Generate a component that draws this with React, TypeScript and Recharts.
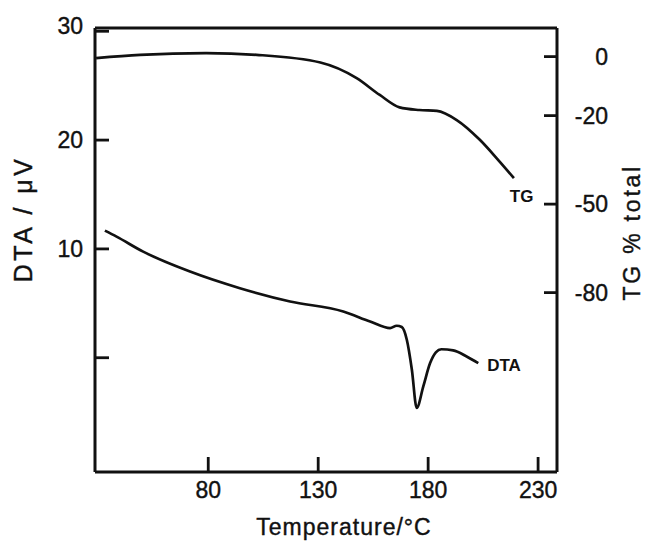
import { Label, Line, LineChart, ReferenceDot, XAxis, YAxis } from "recharts";

// TG trace (temperature °C, TG % total)
const tgTemp = [29, 49, 79, 102, 131, 147.5, 158, 167, 176, 184, 193, 203.5, 212.5, 219];
const tgPct = [-0.5, 0.6, 1.2, 0.6, -2.0, -7.3, -13, -17.2, -18.1, -18.4, -21.5, -28.2, -35.6, -41.2];

// DTA trace (temperature °C, µV)
const dtaTemp = [
  33, 38.3, 50.4, 71.7, 94.4, 117.2, 141.4, 153.6, 162.7, 165.7, 168, 170.3, 172.6, 174.8, 177.8,
  180.9, 183.5, 186, 191.4, 197.5, 202.8,
];
const dtaUv = [
  11.68, 11.13, 9.75, 7.92, 6.39, 5.17, 4.25, 3.33, 2.72, 2.94, 2.82, 1.65, -1.1, -4.61, -2.63,
  -0.49, 0.5, 0.78, 0.68, 0.12, -0.49,
];

const tempTicks = [80, 130, 180, 230];
const dtaTicks = [0, 10, 20, 30];
const tgTicks = [0, -20, -50, -80];

const tgData = tgTemp.map((t, i) => ({ t, tg: tgPct[i] }));
const dtaData = dtaTemp.map((t, i) => ({ t, dta: dtaUv[i] }));

const INK = "#111";
const FONT = "'Liberation Sans', Arial, sans-serif";
const textStyle = { fill: INK, fontFamily: FONT, stroke: INK, strokeWidth: 0.4 };

function LeftTick({ x, y, payload }: any) {
  // the top label sits a little above the frame corner in the original
  const dy = payload.value === 30 ? -5 : 0;
  return (
    <g>
      <line x1={x} x2={x + 14} y1={y} y2={y} stroke={INK} strokeWidth={2.8} />
      {payload.value !== 0 && (
        <text x={x - 12} y={y + dy} textAnchor="end" dominantBaseline="central" fontSize={23} {...textStyle}>
          {payload.value}
        </text>
      )}
    </g>
  );
}

function RightTick({ x, y, payload }: any) {
  return (
    <g>
      <line x1={x - 13} x2={x} y1={y} y2={y} stroke={INK} strokeWidth={2.8} />
      <text x={x + 51} y={y} textAnchor="end" dominantBaseline="central" fontSize={23} {...textStyle}>
        {payload.value}
      </text>
    </g>
  );
}

function BottomTick({ x, y, payload }: any) {
  return (
    <g>
      <line x1={x} x2={x} y1={y - 15} y2={y} stroke={INK} strokeWidth={2.8} />
      <text x={x} y={y + 18} textAnchor="middle" dominantBaseline="central" fontSize={23} {...textStyle}>
        {payload.value}
      </text>
    </g>
  );
}

export default function App() {
  const axisLine = { stroke: INK, strokeWidth: 3 };
  return (
    <div style={{ position: "absolute", left: 0, top: 0, width: 646, height: 542, background: "#fff" }}>
      <LineChart width={646} height={542} margin={{ top: 26, right: 19, bottom: 10, left: 35 }}>
        <XAxis
          type="number"
          dataKey="t"
          domain={[28.5, 238.6]}
          ticks={tempTicks}
          height={60}
          tickSize={0}
          tickMargin={0}
          tickLine={false}
          axisLine={axisLine}
          tick={<BottomTick />}
          allowDataOverflow
        >
          <Label
            content={({ viewBox }: any) => (
              <text
                x={viewBox.x + viewBox.width / 2 + 18}
                y={viewBox.y + 55}
                textAnchor="middle"
                dominantBaseline="central"
                fontSize={23}
                letterSpacing={1}
                {...textStyle}
              >
                Temperature/°C
              </text>
            )}
          />
        </XAxis>
        <XAxis
          xAxisId="top"
          orientation="top"
          type="number"
          dataKey="t"
          domain={[28.5, 238.6]}
          height={2}
          tick={false}
          tickLine={false}
          axisLine={axisLine}
          allowDataOverflow
        />
        <YAxis
          yAxisId="dta"
          type="number"
          domain={[-10.5, 30.3]}
          ticks={dtaTicks}
          width={60}
          tickSize={0}
          tickMargin={0}
          tickLine={false}
          axisLine={axisLine}
          tick={<LeftTick />}
          allowDataOverflow
        >
          <Label
            content={({ viewBox }: any) => {
              const cx = viewBox.x + viewBox.width - 72;
              const cy = viewBox.y + viewBox.height * 0.43;
              return (
                <text
                  x={cx}
                  y={cy}
                  transform={`rotate(-90 ${cx} ${cy})`}
                  textAnchor="middle"
                  dominantBaseline="central"
                  fontSize={25}
                  letterSpacing={3.5}
                  {...textStyle}
                >
                  DTA / μV
                </text>
              );
            }}
          />
        </YAxis>
        <YAxis
          yAxisId="tg"
          orientation="right"
          type="number"
          domain={[-140.8, 9.7]}
          ticks={tgTicks}
          width={70}
          tickSize={0}
          tickMargin={0}
          tickLine={false}
          axisLine={axisLine}
          tick={<RightTick />}
          allowDataOverflow
        >
          <Label
            content={({ viewBox }: any) => {
              const cx = viewBox.x + 75;
              const cy = viewBox.y + viewBox.height * 0.46;
              return (
                <text
                  x={cx}
                  y={cy}
                  transform={`rotate(-90 ${cx} ${cy})`}
                  textAnchor="middle"
                  dominantBaseline="central"
                  fontSize={23}
                  letterSpacing={2.8}
                  {...textStyle}
                >
                  TG % total
                </text>
              );
            }}
          />
        </YAxis>
        <Line
          yAxisId="tg"
          data={tgData}
          dataKey="tg"
          type="monotone"
          stroke={INK}
          strokeWidth={2.7}
          dot={false}
          isAnimationActive={false}
        />
        <Line
          yAxisId="dta"
          data={dtaData}
          dataKey="dta"
          type="monotone"
          stroke={INK}
          strokeWidth={2.7}
          dot={false}
          isAnimationActive={false}
        />
        <ReferenceDot
          yAxisId="tg"
          x={222.5}
          y={-47.1}
          r={0}
          fill="none"
          stroke="none"
          label={{ value: "TG", position: "center", fontSize: 17, fontWeight: "bold", fill: INK, fontFamily: FONT }}
        />
        <ReferenceDot
          yAxisId="dta"
          x={214.5}
          y={-0.64}
          r={0}
          fill="none"
          stroke="none"
          label={{ value: "DTA", position: "center", fontSize: 17, fontWeight: "bold", fill: INK, fontFamily: FONT }}
        />
      </LineChart>
    </div>
  );
}
